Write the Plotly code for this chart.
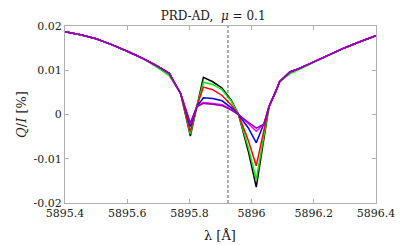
import plotly.graph_objects as go

wavelength = [5895.40, 5895.45, 5895.50, 5895.55, 5895.60, 5895.65, 5895.70, 5895.735,
              5895.772, 5895.803, 5895.824, 5895.845, 5895.875, 5895.905, 5895.935,
              5895.958, 5895.99, 5896.00, 5896.015, 5896.04, 5896.056, 5896.077,
              5896.09, 5896.123, 5896.15, 5896.20, 5896.25, 5896.30, 5896.35, 5896.40]

wing_left = [0.0187, 0.0180, 0.0171, 0.0158, 0.0143, 0.0127, 0.0108, 0.0093, 0.0047]
wing_right = [0.0018, 0.0051, 0.0074, 0.0096, 0.0103, 0.0119, 0.0135, 0.0151, 0.0165, 0.0178]

core_black   = [-0.0049, 0.0018, 0.0084, 0.0074, 0.0060, 0.0032, 0.0, -0.0085, -0.0117, -0.0164, -0.0053]
core_green   = [-0.0044, 0.0018, 0.0073, 0.0068, 0.0056, 0.0030, 0.0, -0.0076, -0.0105, -0.0147, -0.0046]
core_red     = [-0.0038, 0.0018, 0.0062, 0.0056, 0.0043, 0.0021, 0.0, -0.0060, -0.0082, -0.0116, -0.0034]
core_blue    = [-0.0027, 0.0018, 0.0038, 0.0036, 0.0031, 0.0015, 0.0, -0.0031, -0.0044, -0.0064, -0.0020]
core_magenta = [-0.0021, 0.0018, 0.0027, 0.0025, 0.0022, 0.0011, 0.0, -0.0021, -0.0028, -0.0038, -0.0021]
core_purple  = [-0.0019, 0.0018, 0.0025, 0.0023, 0.0020, 0.0010, 0.0, -0.0018, -0.0023, -0.0031, -0.0022]

green_wing_left = [0.0187, 0.0180, 0.0171, 0.0158, 0.0143, 0.0127, 0.0105, 0.0088, 0.0047]
green_wing_right = [0.0018, 0.0051, 0.0074, 0.0092, 0.0101, 0.0119, 0.0135, 0.0151, 0.0165, 0.0178]

series = [
    ("black", wing_left + core_black + wing_right),
    ("#00ee00", green_wing_left + core_green + green_wing_right),
    ("#ff0000", wing_left + core_red + wing_right),
    ("#0000ff", wing_left + core_blue + wing_right),
    ("#ff00ff", wing_left + core_magenta + wing_right),
    ("#9400b4", wing_left + core_purple + wing_right),
]

line_center = 5895.924

x_ticks = [5895.4, 5895.6, 5895.8, 5896.0, 5896.2, 5896.4]
x_tick_labels = ["5895.4", "5895.6", "5895.8", "5896", "5896.2", "5896.4"]
y_ticks = [-0.02, -0.01, 0, 0.01, 0.02]
y_tick_labels = ["-0.02", "-0.01", "0", "0.01", "0.02"]

fig = go.Figure()
for color, vals in series:
    fig.add_trace(go.Scatter(x=wavelength, y=vals, mode="lines",
                             line=dict(color=color, width=1.5), showlegend=False))

fig.add_shape(type="line", xref="x", yref="paper", x0=line_center, x1=line_center,
              y0=0, y1=1, line=dict(color="#333333", width=0.8, dash="3px,2px"))

font = "DejaVu Serif, Liberation Serif, serif"
axis_common = dict(showgrid=False, zeroline=False, showline=True, linecolor="#b0b0b0",
                   linewidth=1, mirror="ticks", ticks="inside", ticklen=4,
                   tickcolor="#b0b0b0", tickfont=dict(family=font, size=11, color="#222"))

fig.add_annotation(text="λ [Å]", xref="paper", yref="paper", x=0.498, y=-0.185,
                   xanchor="center", yanchor="middle", showarrow=False,
                   font=dict(family=font, size=13, color="#222"))

fig.update_layout(
    width=399, height=237,
    margin=dict(l=45, r=31, t=14, b=42),
    paper_bgcolor="white", plot_bgcolor="white",
    title=dict(text="PRD-AD,  <i>μ</i> = 0.1", x=0.514, xanchor="center",
               xref="container", yref="container", y=0.968,
               yanchor="middle", font=dict(family=font, size=12, color="#222")),
    xaxis=dict(range=[5895.4, 5896.4], tickvals=x_ticks, ticktext=x_tick_labels,
               **axis_common),
    yaxis=dict(range=[-0.02, 0.02], tickvals=y_ticks, ticktext=y_tick_labels,
               title=dict(text="<i>Q</i>/<i>I</i> [%]", standoff=4,
                          font=dict(family=font, size=13, color="#222")),
               **axis_common),
)

fig.write_html("out.html")
